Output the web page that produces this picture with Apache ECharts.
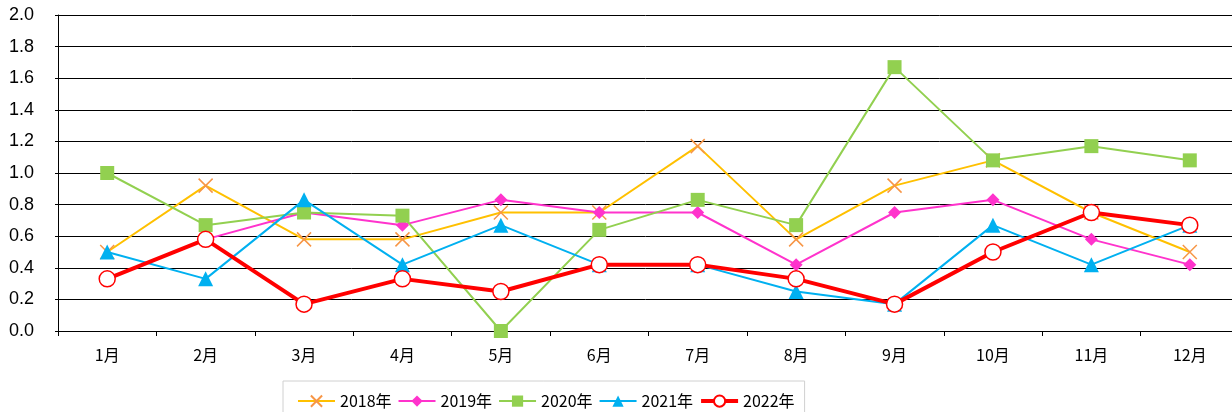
<!DOCTYPE html>
<html>
<head>
<meta charset="utf-8">
<script src="https://cdn.jsdelivr.net/npm/echarts@6/dist/echarts.min.js"></script>
<style>
  html, body { margin: 0; padding: 0; background: #fff; }
  #chart { width: 1232px; height: 412px; }
</style>
</head>
<body>
<div id="chart"></div>
<script>
// 月
const months = ['1月', '2月', '3月', '4月', '5月', '6月', '7月', '8月', '9月', '10月', '11月', '12月']

// 各年の値
const y2018 = [0.50, 0.92, 0.58, 0.58, 0.75, 0.75, 1.17, 0.58, 0.92, 1.08, 0.75, 0.50]
const y2019 = [null, 0.58, 0.75, 0.67, 0.83, 0.75, 0.75, 0.42, 0.75, 0.83, 0.58, 0.42]
const y2020 = [1.00, 0.67, 0.75, 0.73, 0.00, 0.64, 0.83, 0.67, 1.67, 1.08, 1.17, 1.08]
const y2021 = [0.50, 0.33, 0.83, 0.42, 0.67, 0.42, 0.42, 0.25, 0.17, 0.67, 0.42, 0.67]
const y2022 = [0.33, 0.58, 0.17, 0.33, 0.25, 0.42, 0.42, 0.33, 0.17, 0.50, 0.75, 0.67]

const FONT = '"Noto Sans CJK JP", sans-serif'

function line(name, data, color, symbol, size, extra = {}) {
  return Object.assign({
    name,
    type: 'line',
    data,
    symbol,
    symbolSize: size,
    lineStyle: { color, width: 2 },
    itemStyle: { color },
    connectNulls: false,
    animation: false
  }, extra)
}

const chart = echarts.init(document.getElementById('chart'))
chart.setOption({
  animation: false,
  // プロット領域は右端で少し切れている
  grid: { left: 58, width: 1181, top: 15, bottom: 81, outerBoundsMode: 'none' },
  legend: {
    left: 283,
    top: 381,
    padding: [12, 10, 8, 14],
    itemGap: 6,
    itemWidth: 37,
    itemHeight: 14,
    borderColor: '#d0d0d0',
    borderWidth: 1,
    textStyle: { fontFamily: FONT, fontSize: 16, color: '#000' },
    data: [
      { name: '2018年' },
      { name: '2019年' },
      { name: '2020年' },
      { name: '2021年' },
      { name: '2022年', lineStyle: { width: 4 } }
    ]
  },
  xAxis: {
    type: 'category',
    data: months,
    boundaryGap: true,
    axisLine: { lineStyle: { color: '#000', width: 1 } },
    axisTick: { show: true, inside: false, length: 5, lineStyle: { color: '#000' } },
    axisLabel: { color: '#000', fontSize: 16, fontFamily: FONT, margin: 16 }
  },
  yAxis: {
    type: 'value',
    min: 0,
    max: 2,
    interval: 0.2,
    axisLine: { show: true, lineStyle: { color: '#000', width: 1 } },
    axisTick: { show: true, length: 3, lineStyle: { color: '#000' } },
    splitLine: { lineStyle: { color: '#000', width: 1 } },
    axisLabel: {
      color: '#000', fontSize: 18, fontFamily: 'Liberation Sans, Arial, sans-serif', margin: 24,
      formatter: v => v.toFixed(1)
    }
  },
  series: [
    line('2018年', y2018, '#FFC000', 'path://M0,0L10,10M10,0L0,10', 14, {
      itemStyle: { color: 'none', borderColor: '#F79646', borderWidth: 1.5 }
    }),
    line('2019年', y2019, '#FF33CC', 'diamond', 13),
    line('2020年', y2020, '#92D050', 'rect', 14),
    line('2021年', y2021, '#00B0F0', 'triangle', 15),
    line('2022年', y2022, '#FF0000', 'circle', 16, {
      lineStyle: { color: '#FF0000', width: 4 },
      itemStyle: { color: '#fff', borderColor: '#FF0000', borderWidth: 1.5 }
    })
  ]
})
</script>
</body>
</html>
